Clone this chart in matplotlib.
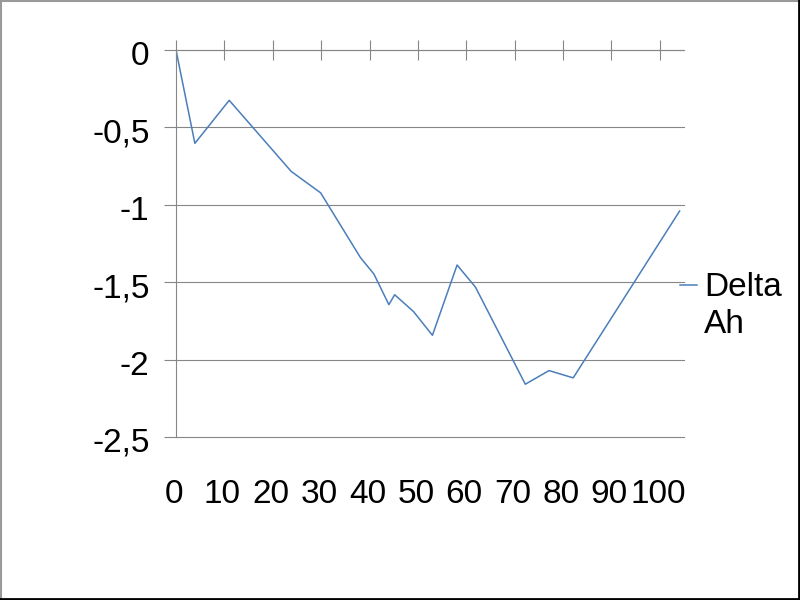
import matplotlib
matplotlib.use("Agg")
import matplotlib.pyplot as plt
from matplotlib.lines import Line2D
from matplotlib.legend_handler import HandlerLine2D
from matplotlib.transforms import ScaledTranslation

plt.rcParams['font.family'] = ['Liberation Sans', 'DejaVu Sans']

# Data
x_vals = [0, 3.9, 11.0, 23.8, 29.9, 38.1, 40.9, 44.0, 45.2, 49.1, 53.0,
          58.1, 61.9, 72.2, 77.1, 82.1, 104.1]
delta_ah = [0, -0.603, -0.325, -0.784, -0.923, -1.34, -1.447, -1.645, -1.581,
            -1.69, -1.843, -1.389, -1.532, -2.159, -2.071, -2.118, -1.04]
series_name = "Delta\nAh"
x_ticks = [0, 10, 20, 30, 40, 50, 60, 70, 80, 90, 100]
y_ticks = [0, -0.5, -1, -1.5, -2, -2.5]
y_tick_labels = ["0", "-0,5", "-1", "-1,5", "-2", "-2,5"]

LINE_COLOR = "#4A7EBB"
GRID_COLOR = "#868686"
FS = 24

fig = plt.figure(figsize=(8, 6), dpi=100)
ax = fig.add_axes([176 / 800, 1 - 437 / 600, 508 / 800, 387 / 600])

ax.plot(x_vals, delta_ah, color=LINE_COLOR, lw=1.1, label=series_name)

ax.set_xlim(0, 105)
ax.set_ylim(-2.5, 0)
ax.set_xticks(x_ticks)
ax.set_xticklabels([str(t) for t in x_ticks])
ax.set_yticks(y_ticks)
ax.set_yticklabels(y_tick_labels)

ax.grid(axis='y', color=GRID_COLOR, lw=0.8)
ax.set_axisbelow(True)
for s in ['right', 'bottom']:
    ax.spines[s].set_visible(False)
for s in ['top', 'left']:
    ax.spines[s].set_color(GRID_COLOR)
    ax.spines[s].set_linewidth(0.8)

ax.tick_params(axis='x', top=True, bottom=False, labeltop=False, labelbottom=True,
               direction='inout', length=14.4, width=0.8, color=GRID_COLOR,
               labelsize=FS, pad=23.2)
ax.tick_params(axis='y', direction='out', length=9, width=0.8, color=GRID_COLOR,
               labelsize=FS, pad=10)
for gl in ax.get_ygridlines():
    gl.set_clip_on(False)

down = ScaledTranslation(0, -3 / 100, fig.dpi_scale_trans)
for lab in ax.get_yticklabels():
    lab.set_transform(lab.get_transform() + down)
left = ScaledTranslation(-2 / 100, 0, fig.dpi_scale_trans)
for lab in ax.get_xticklabels():
    lab.set_transform(lab.get_transform() + left)


class RaisedHandler(HandlerLine2D):
    def __init__(self, off, **kw):
        super().__init__(**kw)
        self.off = off

    def create_artists(self, legend, orig_handle, xdescent, ydescent, width,
                       height, fontsize, trans):
        return super().create_artists(legend, orig_handle, xdescent, ydescent,
                                      width, height + 2 * self.off, fontsize, trans)


leg = ax.legend(loc='center left', bbox_to_anchor=(680 / 800, 1 - 306 / 600),
                bbox_transform=fig.transFigure, frameon=False, fontsize=FS,
                handlelength=0.52, handletextpad=0.2, borderpad=0,
                borderaxespad=0,
                handler_map={Line2D: RaisedHandler(15.5)})
for t in leg.get_texts():
    t.set_linespacing(1.29)

# figure border: gray top/left, black right/bottom
fig.add_artist(Line2D([0.001, 0.001], [0, 1], transform=fig.transFigure,
                      color="#999999", lw=1.5))
fig.add_artist(Line2D([0, 1], [0.999, 0.999], transform=fig.transFigure,
                      color="#999999", lw=1.5))
fig.add_artist(Line2D([0.9985, 0.9985], [0, 1], transform=fig.transFigure,
                      color="black", lw=2))
fig.add_artist(Line2D([0, 1], [0.002, 0.002], transform=fig.transFigure,
                      color="black", lw=2))

fig.savefig("out.png", dpi=100)
